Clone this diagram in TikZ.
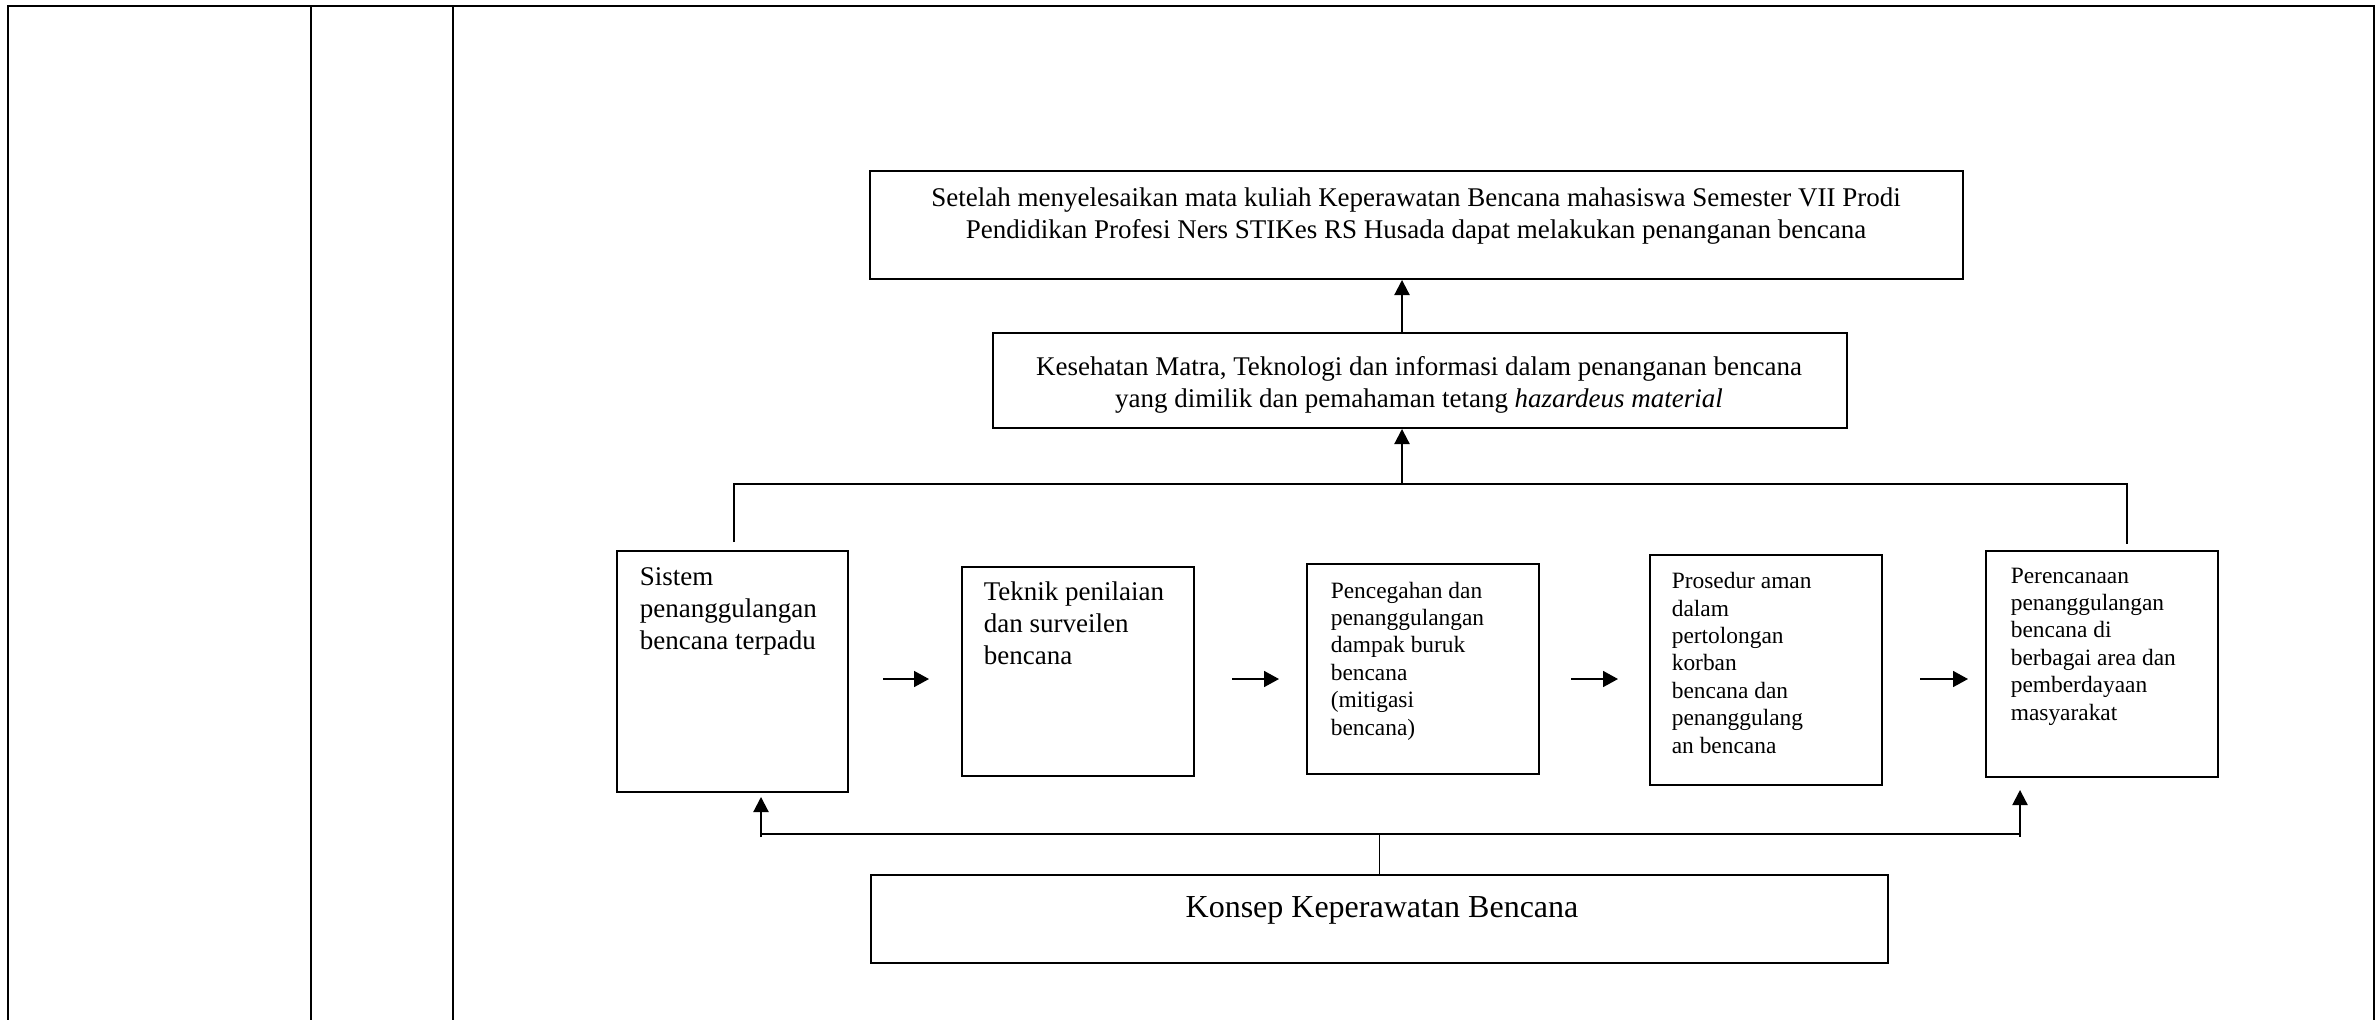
\documentclass[tikz,border=0pt]{standalone}
\usepackage{fontspec}
\setmainfont{Liberation Serif}
\usetikzlibrary{arrows.meta}
\begin{document}
\begin{tikzpicture}[x=0.25pt,y=-0.25pt,
  tbl/.style={line width=0.5pt, line cap=rect},
  box/.style={draw, line width=0.5pt, inner sep=0pt},
  conn/.style={line width=0.35pt},
  arr/.style={line width=0.38pt, -{Triangle[length=3.75pt,width=3.8pt]}},
  harr/.style={line width=0.42pt, -{Triangle[length=3.75pt,width=4pt]}},
  bigtxt/.style={inner sep=0pt, font=\fontsize{6.75pt}{7.9pt}\selectfont},
  smalltxt/.style={inner sep=0pt, font=\fontsize{5.85pt}{6.85pt}\selectfont, align=left, anchor=base west},
]
\useasboundingbox (0,0) rectangle (2376,1019);
% table frame
\draw[tbl] (8,1030) -- (8,6) -- (2374,6) -- (2374,1030);
\draw[tbl] (311,6) -- (311,1030);
\draw[tbl] (453,6) -- (453,1030);

% boxes
\node[box, minimum width=273.25pt, minimum height=27pt] (T) at (1416.5,225) {};
\node[box, minimum width=213.5pt, minimum height=23.75pt] (M) at (1420,380.5) {};
\node[box, minimum width=57.75pt, minimum height=60.25pt] (A) at (732.5,671.5) {};
\node[box, minimum width=58pt, minimum height=52.25pt] (B) at (1078,671.5) {};
\node[box, minimum width=58pt, minimum height=52.5pt] (C) at (1423,669) {};
\node[box, minimum width=58pt, minimum height=57.5pt] (D) at (1766,670) {};
\node[box, minimum width=58pt, minimum height=56.5pt] (E) at (2102,664) {};
\node[box, minimum width=254.25pt, minimum height=22pt] (F) at (1379.5,919) {};

% texts (base anchor = baseline of the last line)
\node[bigtxt, align=center, anchor=base] (tT) at (1416,238)
  {Setelah menyelesaikan mata kuliah Keperawatan Bencana mahasiswa Semester VII Prodi\\
   Pendidikan Profesi Ners STIKes RS Husada dapat melakukan penanganan bencana};
\node[bigtxt, align=center, anchor=base] (tM) at (1419,407)
  {Kesehatan Matra, Teknologi dan informasi dalam penanganan bencana\\
   yang dimilik dan pemahaman tetang \textit{hazardeus material}};
\node[bigtxt, align=left, anchor=base west] (tA) at (639,649)
  {Sistem\\penanggulangan\\bencana terpadu};
\node[bigtxt, align=left, anchor=base west] (tB) at (983,664)
  {Teknik penilaian\\dan surveilen\\bencana};
\node[smalltxt] (tC) at (1330,735)
  {Pencegahan dan\\penanggulangan\\dampak buruk\\bencana\\(mitigasi\\bencana)};
\node[smalltxt] (tD) at (1671,753)
  {Prosedur aman\\dalam\\pertolongan\\korban\\bencana dan\\penanggulang\\an bencana};
\node[smalltxt] (tE) at (2010,720)
  {Perencanaan\\penanggulangan\\bencana di\\berbagai area dan\\pemberdayaan\\masyarakat};
\node[inner sep=0pt, font=\fontsize{8pt}{9.6pt}\selectfont, anchor=base] (tF) at (1382,917)
  {Konsep Keperawatan Bencana};

% upper connectors
\coordinate (j1) at (1402,484);
\coordinate (busL) at (734,484);
\coordinate (busR) at (2127,484);
\coordinate (aTop) at (734,542);
\coordinate (eTop) at (2127,544);
\draw[conn] (aTop) -- (busL) -- (busR) -- (eTop);
\draw[arr] (j1) -- (M.south -| j1);
\draw[arr] (M.north -| j1) -- (T.south -| j1);

% horizontal arrows
\coordinate (ab1) at (883,679); \coordinate (ab2) at (929,679);
\coordinate (bc1) at (1232,679); \coordinate (bc2) at (1279,679);
\coordinate (cd1) at (1571,679); \coordinate (cd2) at (1618,679);
\coordinate (de1) at (1920,679); \coordinate (de2) at (1968,679);
\draw[harr] (ab1) -- (ab2);
\draw[harr] (bc1) -- (bc2);
\draw[harr] (cd1) -- (cd2);
\draw[harr] (de1) -- (de2);

% lower connectors
\coordinate (bL) at (761,834);
\coordinate (bR) at (2020,834);
\coordinate (aBot) at (761,797);
\coordinate (eBot) at (2020,790);
\draw[line width=0.5pt] (bL) -- (bR);
\draw[arr] ([yshift=-0.8pt]bL) -- (aBot);
\draw[arr] ([yshift=-0.8pt]bR) -- (eBot);
\draw[conn] (F.north) -- (F.north |- bL);
\end{tikzpicture}
\end{document}
